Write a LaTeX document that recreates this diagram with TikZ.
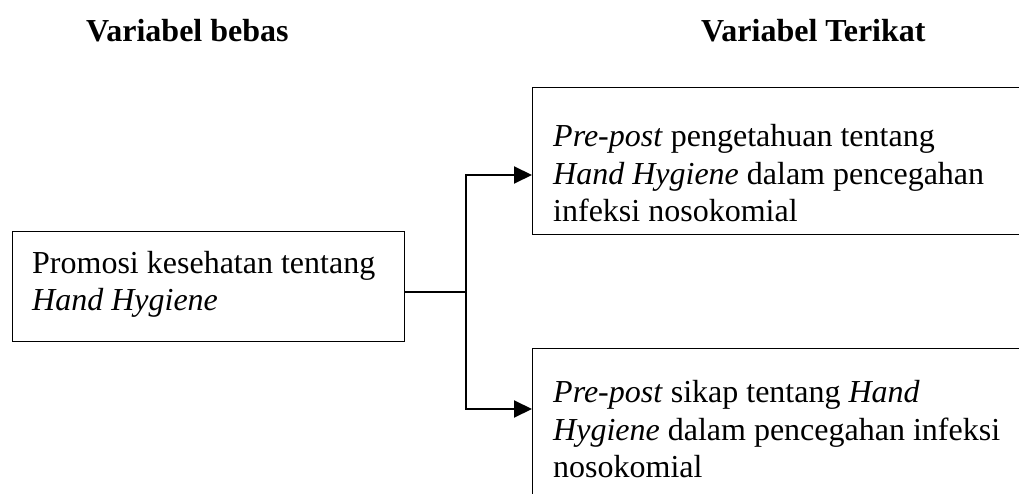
\documentclass[tikz,border=0pt]{standalone}
\usepackage{fontspec}
\setmainfont{Liberation Serif}
\usetikzlibrary{arrows.meta}
\begin{document}
\begin{tikzpicture}[x=1pt,y=-1pt,
  box/.style={draw, line width=1.3pt, rectangle, anchor=north west, inner sep=0pt},
  txt/.style={anchor=base west, inner sep=0pt, font=\fontsize{32}{37.5}\selectfont},
  head/.style={anchor=base west, inner sep=0pt, font=\fontsize{32}{37.5}\selectfont\bfseries},
  conn/.style={line width=2pt},
  arr/.style={conn, -{Triangle[length=18pt,width=17pt]}}]
\useasboundingbox (0,0) rectangle (1019,494);
\clip (0,0) rectangle (1019,494);
% headings
\node[head] (h1) at (86,42) {Variabel bebas};
\node[head] (h2) at (701,42) {Variabel Terikat};
% boxes
\node[box, minimum width=392pt, minimum height=110pt] (src) at (12,231) {};
\node[box, minimum width=520pt, minimum height=147pt] (top) at (532,87) {};
\node[box, minimum width=520pt, minimum height=200pt] (bot) at (532,348) {};
% texts
\node[txt] (s1) at (32,273) {Promosi kesehatan tentang};
\node[txt] (s2) at (32,310) {\textit{Hand Hygiene}};
\node[txt] (a1) at (553,147) {\textit{Pre-post} pengetahuan tentang};
\node[txt] (a2) at (553,185) {\textit{Hand Hygiene} dalam pencegahan};
\node[txt] (a3) at (553,222) {infeksi nosokomial};
\node[txt] (b1) at (553,402) {\textit{Pre-post} sikap tentang \textit{Hand}};
\node[txt] (b2) at (553,440) {\textit{Hygiene} dalam pencegahan infeksi};
\node[txt] (b3) at (553,477) {nosokomial};
% connectors
\coordinate (j) at (466,292);
\coordinate (ju) at (466,175);
\coordinate (jd) at (466,409);
\draw[conn] (src.east |- j) -- (j);
\draw[arr] (j) -- (ju) -- (ju -| top.west);
\draw[arr] (j) -- (jd) -- (jd -| bot.west);
\end{tikzpicture}
\end{document}
